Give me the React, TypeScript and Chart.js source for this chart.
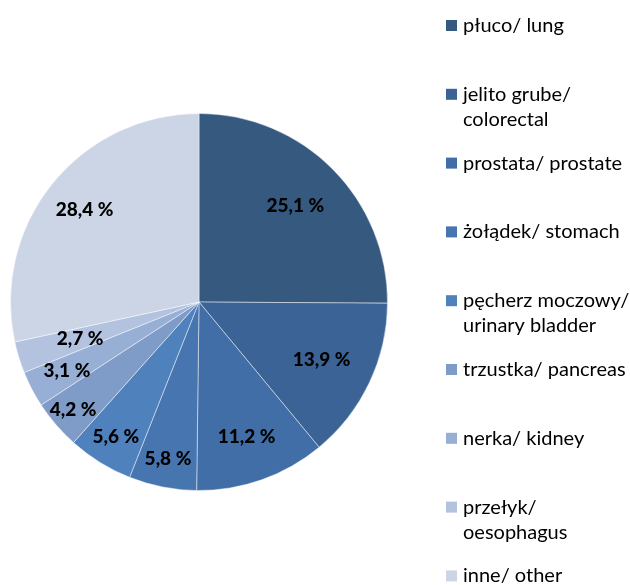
import React, { useEffect, useRef } from "react";
import { Chart, registerables } from "chart.js";

Chart.register(...registerables);

// ---- data ----
const categories: string[][] = [
  ["płuco/ lung"],
  ["jelito grube/", "colorectal"],
  ["prostata/ prostate"],
  ["żołądek/ stomach"],
  ["pęcherz moczowy/", "urinary bladder"],
  ["trzustka/ pancreas"],
  ["nerka/ kidney"],
  ["przełyk/", "oesophagus"],
  ["inne/ other"],
];
const values: number[] = [25.1, 13.9, 11.2, 5.8, 5.6, 4.2, 3.1, 2.7, 28.4];
const colors: string[] = [
  "#36597f",
  "#3b6396",
  "#416ea6",
  "#4675b0",
  "#4f81bd",
  "#7f9cc8",
  "#97aed5",
  "#b2c2df",
  "#ccd5e6",
];
// radial position of each value label, as a fraction of the radius
const labelDistance: number[] = [0.72, 0.72, 0.76, 0.85, 0.84, 0.88, 0.79, 0.66, 0.78];

const FONT = "Lato, 'Open Sans', sans-serif";

const formatValue = (v: number) => v.toFixed(1).replace(".", ",") + " %";

const valueLabelPlugin = {
  id: "valueLabels",
  afterDatasetsDraw(chart: any) {
    const ctx = chart.ctx;
    const meta = chart.getDatasetMeta(0);
    ctx.save();
    ctx.font = `900 19px ${FONT}`;
    ctx.fillStyle = "#000";
    ctx.textAlign = "center";
    ctx.textBaseline = "middle";
    meta.data.forEach((arc: any, i: number) => {
      const p = arc.getProps(["x", "y", "startAngle", "endAngle", "outerRadius"], true);
      const mid = (p.startAngle + p.endAngle) / 2;
      const d = p.outerRadius * labelDistance[i];
      ctx.fillText(formatValue(values[i]), p.x + Math.cos(mid) * d, p.y + Math.sin(mid) * d);
    });
    ctx.restore();
  },
};

const legendPlugin = {
  id: "sideLegend",
  afterDraw(chart: any) {
    const ctx = chart.ctx;
    const boxX = 446;
    const textX = 463;
    const top = 25.5;
    const step = 68.8;
    const lineH = 25;
    const box = 11;
    ctx.save();
    ctx.font = `20px ${FONT}`;
    ctx.textAlign = "left";
    ctx.textBaseline = "middle";
    categories.forEach((lines, i) => {
      const y = top + i * step;
      ctx.fillStyle = colors[i];
      ctx.fillRect(boxX, y - box / 2, box, box);
      ctx.fillStyle = "#000";
      lines.forEach((t, j) => ctx.fillText(t, textX, y + j * lineH));
    });
    ctx.restore();
  },
};

export default function App() {
  const ref = useRef<HTMLCanvasElement | null>(null);
  useEffect(() => {
    if (!ref.current) return;
    const chart = new Chart(ref.current, {
      type: "pie",
      data: {
        labels: categories.map((l) => l.join(" ")),
        datasets: [
          {
            data: values,
            backgroundColor: colors,
            borderColor: "rgba(255,255,255,0.45)",
            borderWidth: 1,
          },
        ],
      },
      options: {
        responsive: false,
        devicePixelRatio: 1,
        animation: false,
        layout: { padding: { left: 10, right: 242, top: 113, bottom: 94 } },
        plugins: {
          legend: { display: false },
          tooltip: { enabled: false },
        },
      },
      plugins: [valueLabelPlugin, legendPlugin],
    });
    return () => chart.destroy();
  }, []);
  return (
    <div style={{ position: "fixed", left: 0, top: 0, width: 630, height: 585, background: "#fff" }}>
      <canvas ref={ref} width={630} height={585} style={{ display: "block" }} />
    </div>
  );
}
